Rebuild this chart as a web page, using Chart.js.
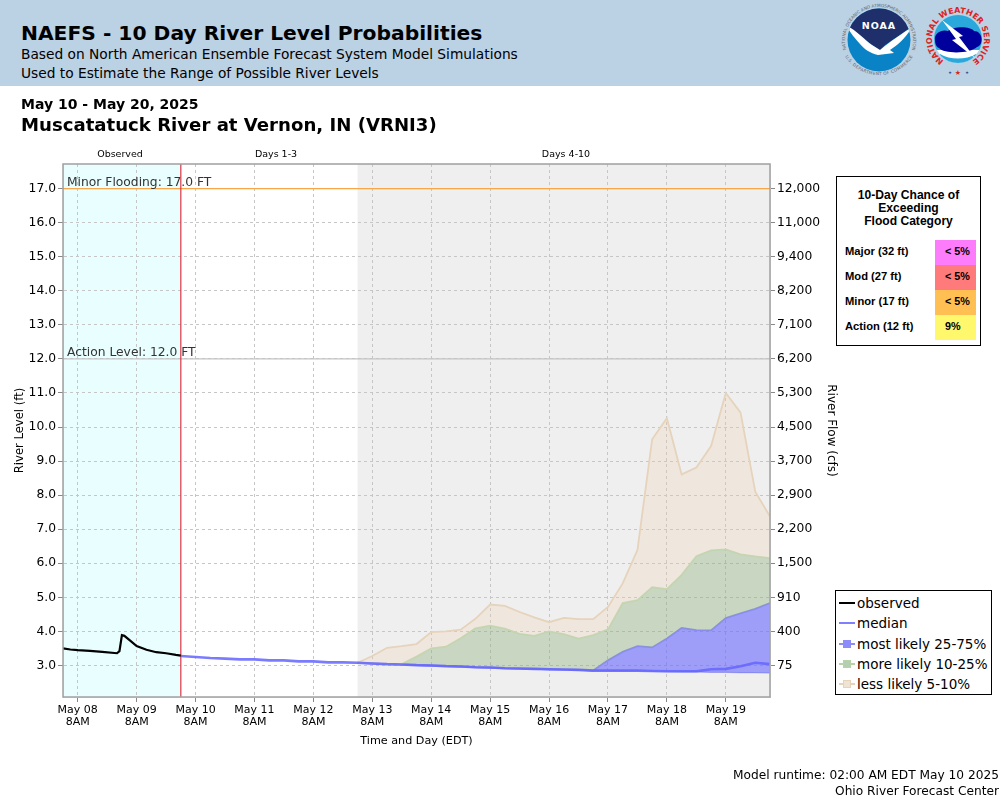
<!DOCTYPE html>
<html>
<head>
<meta charset="utf-8">
<title>NAEFS - 10 Day River Level Probabilities</title>
<script src="https://cdn.jsdelivr.net/npm/chart.js@4"></script>
<style>
  html, body { margin: 0; padding: 0; background: #fff; }
  body { width: 1000px; height: 800px; position: relative; overflow: hidden; font-family: "DejaVu Sans", sans-serif; color: #000; }
  #chartWrap { position: absolute; left: 0; top: 0; width: 1000px; height: 800px; }
  .band { position: absolute; left: 0; top: 0; width: 1000px; height: 86px; background: #bbd1e4; }
  .txt { position: absolute; white-space: nowrap; }
  #logos { position: absolute; left: 820px; top: 0; }
  #floodBox { position: absolute; left: 836px; top: 176px; width: 143px; height: 168px; border: 1.5px solid #000; background: #fff; font-family: "Liberation Sans", sans-serif; font-weight: bold; }
  #floodTitle { position: absolute; left: 0; right: 0; top: 12px; text-align: center; font-size: 12.1px; line-height: 13px; }
  .floodRow { position: absolute; left: 0; width: 143px; height: 25px; }
  .floodRow span { position: absolute; left: 8px; top: 5px; font-size: 11.2px; }
  .floodRow b { position: absolute; left: 98px; width: 41px; height: 100%; font-size: 10.8px; line-height: 23px; text-indent: 10px; }
  #legendBox { position: absolute; left: 835px; top: 590px; width: 155px; height: 103px; border: 1.5px solid #000; background: #fff; font-size: 13.5px; }
  .legRow { position: absolute; left: 3px; height: 20px; line-height: 20px; white-space: nowrap; }
  .legRow i { position: absolute; left: 0; top: 9px; width: 16px; height: 2px; }
  .legRow u { position: absolute; left: 4px; top: 6px; width: 8px; height: 8px; }
  .legRow span { position: absolute; left: 18px; top: 0; }
</style>
</head>
<body>
<div id="chartWrap"><canvas id="chart" width="1000" height="800"></canvas></div>
<div class="band"></div>
<div class="txt" style="left:21px;top:21px;font-size:20.25px;font-weight:bold;">NAEFS - 10 Day River Level Probabilities</div>
<div class="txt" style="left:21px;top:46px;font-size:13.75px;">Based on North American Ensemble Forecast System Model Simulations</div>
<div class="txt" style="left:21px;top:65px;font-size:13.75px;">Used to Estimate the Range of Possible River Levels</div>
<div class="txt" style="left:21px;top:96px;font-size:14px;font-weight:bold;">May 10 - May 20, 2025</div>
<div class="txt" style="left:21px;top:114px;font-size:18.13px;font-weight:bold;">Muscatatuck River at Vernon, IN (VRNI3)</div>
<div class="txt" style="right:1px;top:768px;font-size:12.2px;">Model runtime: 02:00 AM EDT May 10 2025</div>
<div class="txt" style="right:1px;top:784px;font-size:12.2px;">Ohio River Forecast Center</div>

<svg id="logos" width="180" height="86" viewBox="0 0 180 86">
  <defs>
    <path id="noaaRing" d="M 29 57 A 34 34 0 1 1 89 57"/>
    <path id="noaaLow" d="M 25 47 A 36 36 0 0 0 93 47"/>
    <path id="nwsRing" d="M 123.1 60.3 A 26 26 0 1 1 152.9 60.3"/>
    <clipPath id="noaaClip"><circle cx="59" cy="40" r="31.5"/></clipPath>
    <clipPath id="nwsClip"><circle cx="138" cy="39" r="24"/></clipPath>
  </defs>
  <g clip-path="url(#noaaClip)">
    <rect x="25" y="5" width="70" height="70" fill="#0a83c6"/>
    <path d="M 25 5 L 95 5 L 95 25 L 90 28 L 65 45 L 60 50 L 52 45 L 29 27 L 25 25 Z" fill="#1f2f6b"/>
    <path d="M 27 26 C 36 30 46 41 52 45 L 60 50 C 64 46 78 36 92 27 C 86 38 78 45 70 50 L 74 53 L 58 55 C 50 53 44 49 40 44 C 35 38 30 33 27 26 Z" fill="#fff"/>
  </g>
  <text font-size="9.5" font-weight="bold" fill="#fff" text-anchor="middle" x="59" y="29" letter-spacing="1">NOAA</text>
  <text font-size="4.3" fill="#666" text-anchor="middle"><textPath href="#noaaRing" startOffset="50%">NATIONAL OCEANIC AND ATMOSPHERIC ADMINISTRATION</textPath></text>
  <text font-size="4.3" fill="#666" text-anchor="middle" dy="4"><textPath href="#noaaLow" startOffset="50%">U.S. DEPARTMENT OF COMMERCE</textPath></text>

  <g clip-path="url(#nwsClip)">
    <rect x="110" y="10" width="56" height="60" fill="#2aa8dc"/>
    <path d="M 114 50 L 162 50 L 162 64 L 114 64 Z" fill="#fff"/>
    <path d="M 120 54 C 130 60 146 60 156 54 L 156 66 L 120 66 Z" fill="#2aa8dc"/>
  </g>
  <path d="M 115 40 C 114 33 122 29 128 31 C 134 26 150 26 154 31 C 163 31 164 45 157 47 C 150 54 124 54 119 48 C 116 47 115 43 115 40 Z" fill="#00009c"/>
  <path d="M 122 20 L 143 36 L 139 37 L 155 58 L 132 40 L 136 39 Z" fill="#fff"/>
  <text font-size="8" font-weight="bold" fill="#dd2222" text-anchor="middle"><textPath href="#nwsRing" startOffset="50%">NATIONAL WEATHER SERVICE</textPath></text>
  <text font-size="7" fill="#dd2222" text-anchor="middle" x="138" y="75">★</text>
  <text font-size="4" fill="#223a8c" text-anchor="middle" x="130" y="74">★</text>
  <text font-size="4" fill="#223a8c" text-anchor="middle" x="147" y="74">★</text>
</svg>

<div id="floodBox">
  <div id="floodTitle">10-Day Chance of<br>Exceeding<br>Flood Category</div>
</div>
<div id="legendBox"></div>

<script>
  // Time axis is hours since May 08 2AM
  const tickHours = [6, 30, 54, 78, 102, 126, 150, 174, 198, 222, 246, 270];
  const tickDays = ['May 08', 'May 09', 'May 10', 'May 11', 'May 12', 'May 13', 'May 14', 'May 15', 'May 16', 'May 17', 'May 18', 'May 19'];
  const levelTicks = [3, 4, 5, 6, 7, 8, 9, 10, 11, 12, 13, 14, 15, 16, 17];
  const flowLabels = ['75', '400', '910', '1,500', '2,200', '2,900', '3,700', '4,500', '5,300', '6,200', '7,100', '8,200', '9,400', '11,000', '12,000'];

  const observedHours = [0, 3, 6, 11, 16, 22, 23, 24, 25, 27, 30, 34, 38, 42, 46, 48];
  const observedLevels = [3.50, 3.47, 3.45, 3.43, 3.40, 3.36, 3.42, 3.89, 3.87, 3.75, 3.57, 3.46, 3.39, 3.36, 3.31, 3.29];

  const medianHours = [48, 54, 60, 66, 72, 78, 84, 90, 96, 102, 108, 114, 120, 126, 132, 138, 144, 150, 156, 162, 168, 174, 180, 186, 192, 198, 204, 210, 216, 222, 228, 234, 240, 246, 252, 258, 264, 270, 276, 282, 288];
  const medianLevels = [3.28, 3.25, 3.22, 3.20, 3.18, 3.18, 3.15, 3.15, 3.12, 3.12, 3.09, 3.09, 3.08, 3.06, 3.04, 3.03, 3.01, 3.00, 2.98, 2.97, 2.95, 2.94, 2.92, 2.91, 2.90, 2.89, 2.88, 2.87, 2.85, 2.85, 2.85, 2.85, 2.84, 2.83, 2.83, 2.83, 2.89, 2.90, 2.98, 3.08, 3.04];

  const bandHours = [120, 126, 132, 138, 144, 150, 156, 162, 168, 174, 180, 186, 192, 198, 204, 210, 216, 222, 228, 234, 240, 246, 252, 258, 264, 270, 276, 282, 288];
  const lessLikelyTop = [3.08, 3.28, 3.52, 3.57, 3.63, 3.98, 4.00, 4.05, 4.37, 4.79, 4.75, 4.57, 4.41, 4.27, 4.40, 4.36, 4.36, 4.72, 5.41, 6.39, 9.64, 10.26, 8.61, 8.81, 9.44, 11.00, 10.42, 8.10, 7.37];
  const moreLikelyTop = [3.08, 3.06, 3.04, 3.04, 3.26, 3.50, 3.55, 3.80, 4.09, 4.17, 4.08, 3.93, 3.87, 4.00, 3.92, 3.79, 3.89, 4.06, 4.83, 4.92, 5.30, 5.24, 5.66, 6.21, 6.38, 6.41, 6.26, 6.20, 6.15];
  const mostLikelyTop = [3.08, 3.06, 3.04, 3.03, 3.01, 3.00, 2.98, 2.97, 2.95, 2.94, 2.92, 2.91, 2.90, 2.89, 2.88, 2.87, 2.85, 3.15, 3.40, 3.57, 3.53, 3.79, 4.10, 4.04, 4.03, 4.39, 4.53, 4.66, 4.83];
  const bandBottom = [3.07, 3.05, 3.03, 3.02, 3.00, 2.99, 2.97, 2.96, 2.94, 2.93, 2.91, 2.90, 2.89, 2.88, 2.87, 2.86, 2.85, 2.84, 2.84, 2.84, 2.83, 2.82, 2.81, 2.81, 2.80, 2.80, 2.79, 2.79, 2.78];

  const floodNames = ['Major (32 ft)', 'Mod (27 ft)', 'Minor (17 ft)', 'Action (12 ft)'];
  const floodChances = ['< 5%', '< 5%', '< 5%', '9%'];
  const floodColors = ['#fd7cfb', '#ff7b7b', '#ffbf52', '#fff76c'];

  const legendNames = ['observed', 'median', 'most likely 25-75%', 'more likely 10-25%', 'less likely 5-10%'];
  const legendLines = ['#000', '#8080ff', '#8c8cf8', '#b5d3a8', '#e6d3bb'];
  const legendFills = [null, null, '#8c8cf8', '#b5cdb0', '#efe3d4'];

  const hourMax = 288;
  const minorLevel = 17;
  const actionLevel = 12;
  const runtimeHour = 48;
  const gridColor = '#c6c6c6';

  function toPoints(xs, ys) {
    return xs.map((x, i) => ({ x: x, y: ys[i] }));
  }

  // side boxes
  const floodBox = document.getElementById('floodBox');
  floodNames.forEach((name, i) => {
    const row = document.createElement('div');
    row.className = 'floodRow';
    row.style.top = (63 + i * 25) + 'px';
    row.innerHTML = '<span>' + name + '</span><b style="background:' + floodColors[i] + '"></b>';
    row.querySelector('b').textContent = floodChances[i];
    floodBox.appendChild(row);
  });

  const legendBox = document.getElementById('legendBox');
  legendNames.forEach((name, i) => {
    const row = document.createElement('div');
    row.className = 'legRow';
    row.style.top = (2 + i * 20.3) + 'px';
    let html = '<i style="background:' + legendLines[i] + '"></i>';
    if (legendFills[i]) html += '<u style="background:' + legendFills[i] + ';border:1px solid ' + legendLines[i] + ';box-sizing:border-box"></u>';
    row.innerHTML = html + '<span>' + name + '</span>';
    legendBox.appendChild(row);
  });

  // shaded periods go under the grid, labels go on top
  const periodsPlugin = {
    id: 'periods',
    beforeDraw(chart) {
      const { ctx, chartArea: a, scales } = chart;
      const xRun = scales.x.getPixelForValue(runtimeHour);
      const xFar = scales.x.getPixelForValue(120);
      ctx.save();
      ctx.fillStyle = '#e9fefe';
      ctx.fillRect(a.left, a.top, xRun - a.left, a.bottom - a.top);
      ctx.fillStyle = '#efefef';
      ctx.fillRect(xFar, a.top, a.right - xFar, a.bottom - a.top);
      ctx.restore();
    },
    afterDatasetsDraw(chart) {
      const { ctx, chartArea: a, scales } = chart;
      ctx.save();
      ctx.font = '12.3px "DejaVu Sans"';
      ctx.fillStyle = '#333';
      ctx.fillText('Minor Flooding: 17.0 FT', a.left + 4, scales.y.getPixelForValue(minorLevel) - 3);
      ctx.fillText('Action Level: 12.0 FT', a.left + 4, scales.y.getPixelForValue(actionLevel) - 3);
      ctx.font = '9.5px "DejaVu Sans"';
      ctx.fillStyle = '#000';
      ctx.textAlign = 'center';
      ctx.fillText('Observed', 120, 157);
      ctx.fillText('Days 1-3', 276, 157);
      ctx.fillText('Days 4-10', 566, 157);
      ctx.strokeStyle = '#a0a0a0';
      ctx.lineWidth = 1.5;
      ctx.strokeRect(a.left, a.top, a.right - a.left, a.bottom - a.top);
      ctx.restore();
    }
  };

  const yMin = 2.075;
  const yMax = 17.72;

  new Chart(document.getElementById('chart').getContext('2d'), {
    type: 'line',
    data: {
      datasets: [
        { label: 'observed', data: toPoints(observedHours, observedLevels), borderColor: '#000', borderWidth: 2.2, pointRadius: 0, tension: 0 },
        { label: 'median', data: toPoints(medianHours, medianLevels), borderColor: 'rgba(100, 100, 255, 0.85)', borderWidth: 2.6, pointRadius: 0, tension: 0 },
        { label: 'less likely 5-10%', data: toPoints(bandHours, lessLikelyTop), borderColor: '#e6d3bb', borderWidth: 1.8, pointRadius: 0, tension: 0, fill: '+1', backgroundColor: 'rgba(240, 207, 171, 0.25)' },
        { label: 'more likely 10-25%', data: toPoints(bandHours, moreLikelyTop), borderColor: '#c0d6b2', borderWidth: 1.8, pointRadius: 0, tension: 0, fill: '+1', backgroundColor: 'rgba(130, 170, 113, 0.35)' },
        { label: 'most likely 25-75%', data: toPoints(bandHours, mostLikelyTop), borderColor: '#8c8cf8', borderWidth: 1.8, pointRadius: 0, tension: 0, fill: '+1', backgroundColor: 'rgba(104, 104, 255, 0.6)' },
        { label: 'lower', data: toPoints(bandHours, bandBottom), borderColor: '#a6a6e8', borderWidth: 1.2, pointRadius: 0, tension: 0 },
        { label: 'runtime', data: toPoints([runtimeHour, runtimeHour], [yMin, yMax]), borderColor: '#dd2233', borderWidth: 1.1, pointRadius: 0 },
        { label: 'minor', data: toPoints([0, hourMax], [minorLevel, minorLevel]), borderColor: '#f7a64a', borderWidth: 1.2, pointRadius: 0 },
        { label: 'action', data: toPoints([0, hourMax], [actionLevel, actionLevel]), borderColor: '#c4c4c4', borderWidth: 1.2, pointRadius: 0 }
      ]
    },
    options: {
      responsive: false,
      animation: false,
      layout: { padding: { left: 13, right: 162, top: 164, bottom: 52 } },
      plugins: { legend: { display: false }, tooltip: { enabled: false } },
      scales: {
        x: {
          type: 'linear',
          min: 0,
          max: hourMax,
          afterBuildTicks: (s) => { s.ticks = tickHours.map((v) => ({ value: v })); },
          afterFit: (s) => { s.height = 51; },
          grid: { color: gridColor, tickColor: '#888', tickLength: 5 },
          border: { dash: [3, 3] },
          ticks: {
            autoSkip: false, maxRotation: 0, padding: 2, color: '#000',
            font: { family: 'DejaVu Sans', size: 11, lineHeight: 1.1 },
            callback: (v) => [tickDays[tickHours.indexOf(v)], '8AM']
          },
          title: { display: true, text: 'Time and Day (EDT)', color: '#000', font: { family: 'DejaVu Sans', size: 11.2 }, padding: 0 }
        },
        y: {
          min: yMin,
          max: yMax,
          afterBuildTicks: (s) => { s.ticks = levelTicks.map((v) => ({ value: v })); },
          afterFit: (s) => { s.width = 50; },
          grid: { color: gridColor, tickColor: '#888', tickLength: 5 },
          border: { dash: [3, 3] },
          ticks: { color: '#000', padding: 2, font: { family: 'DejaVu Sans', size: 12.3 }, callback: (v) => v.toFixed(1) },
          title: { display: true, text: 'River Level (ft)', color: '#000', font: { family: 'DejaVu Sans', size: 11.6 }, padding: 0 }
        },
        y2: {
          position: 'right',
          min: yMin,
          max: yMax,
          afterBuildTicks: (s) => { s.ticks = levelTicks.map((v) => ({ value: v })); },
          afterFit: (s) => { s.width = 68; },
          grid: { drawOnChartArea: false, tickColor: '#888', tickLength: 5 },
          ticks: { color: '#000', padding: 2, font: { family: 'DejaVu Sans', size: 12.3 }, callback: (v) => flowLabels[levelTicks.indexOf(v)] },
          title: { display: true, text: 'River Flow (cfs)', color: '#000', font: { family: 'DejaVu Sans', size: 12 }, padding: 0 }
        }
      }
    },
    plugins: [periodsPlugin]
  });
</script>
</body>
</html>
